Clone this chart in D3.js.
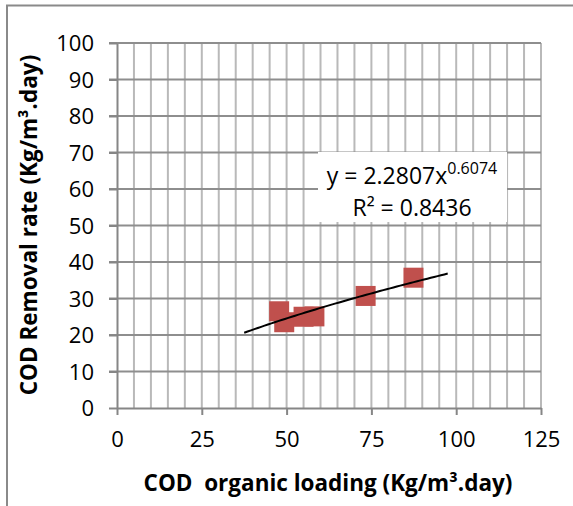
<!DOCTYPE html>
<html>
<head>
<meta charset="utf-8">
<script src="https://cdn.jsdelivr.net/npm/d3@7"></script>
<style>
  body { margin: 0; background: #fff; }
  text { font-family: "Open Sans", "Liberation Sans", sans-serif; fill: #000; }
  .tick text { font-size: 22px; }
  .axisTitle { font-size: 22.5px; font-weight: bold; }
  .eq { font-size: 23px; }
</style>
</head>
<body>
<div id="chart"></div>
<script>
var svgWidth = 573;
var svgHeight = 506;

// data
var loading = [47.8, 49.3, 55.0, 58.2, 73.3, 87.4];
var removal = [26.5, 23.5, 25.0, 25.1, 30.7, 35.7];

// power trendline as printed on the chart
var trendCoef = [2.2807, 0.6074];
var trendRange = [37.5, 97.5];
var trendText = ["y = 2.2807x", "0.6074", "R² = 0.8436"];

var xTicks = [0, 25, 50, 75, 100, 125];
var yTicks = [0, 10, 20, 30, 40, 50, 60, 70, 80, 90, 100];

var margin = { top: 43, right: 32, bottom: 98, left: 117 };
var width = svgWidth - margin.left - margin.right;
var height = svgHeight - margin.top - margin.bottom;

var svg = d3.select("#chart")
  .append("svg")
  .attr("width", svgWidth)
  .attr("height", svgHeight);

// outer chart border (bottom and right are cut off)
svg.append("path")
  .attr("d", "M7,506 V5.5 H573")
  .attr("fill", "none")
  .attr("stroke", "#8a8a8a")
  .attr("stroke-width", 2);

var chartGroup = svg.append("g")
  .attr("transform", `translate(${margin.left}, ${margin.top})`);

var x = d3.scaleLinear().domain([0, 125]).range([0, width]);
var y = d3.scaleLinear().domain([0, 100]).range([height, 0]);

// vertical minor gridlines every 5
chartGroup.append("g")
  .selectAll("line")
  .data(d3.range(5, 130, 5))
  .enter()
  .append("line")
  .attr("x1", d => x(d))
  .attr("x2", d => x(d))
  .attr("y1", 0)
  .attr("y2", height)
  .attr("stroke", "#b9b9b9")
  .attr("stroke-width", 2);

// horizontal gridlines
chartGroup.append("g")
  .selectAll("line")
  .data(yTicks.slice(1))
  .enter()
  .append("line")
  .attr("x1", -8)
  .attr("x2", width)
  .attr("y1", d => y(d))
  .attr("y2", d => y(d))
  .attr("stroke", "#8e8e8e")
  .attr("stroke-width", 2);

// axes
var bottomAxis = d3.axisBottom(x).tickValues(xTicks).tickSize(7).tickSizeOuter(0).tickPadding(16);
var leftAxis = d3.axisLeft(y).tickValues(yTicks).tickSize(8).tickSizeOuter(0).tickPadding(15);

var xAxisG = chartGroup.append("g")
  .attr("transform", `translate(0, ${height})`)
  .call(bottomAxis);

var yAxisG = chartGroup.append("g")
  .call(leftAxis);

[xAxisG, yAxisG].forEach(function(g) {
  g.select(".domain").attr("stroke", "#868686").attr("stroke-width", 2);
  g.selectAll(".tick line").attr("stroke", "#868686").attr("stroke-width", 2);
  g.selectAll(".tick text").style("font-size", "22px").attr("fill", "#000");
});
yAxisG.selectAll(".tick text").attr("dy", "0.36em");

// data squares
var size = 20;
chartGroup.selectAll("rect.pt")
  .data(loading)
  .enter()
  .append("rect")
  .attr("class", "pt")
  .attr("x", (d, i) => x(d) - size / 2)
  .attr("y", (d, i) => y(removal[i]) - size / 2)
  .attr("width", size)
  .attr("height", size)
  .attr("fill", "#c0504d");

// trendline
var trendX = d3.range(trendRange[0], trendRange[1] + 0.01, 1);
var line = d3.line()
  .x(d => x(d))
  .y(d => y(trendCoef[0] * Math.pow(d, trendCoef[1])));

chartGroup.append("path")
  .datum(trendX)
  .attr("d", line)
  .attr("fill", "none")
  .attr("stroke", "#000")
  .attr("stroke-width", 2);

// equation label
var eq = svg.append("g");
eq.append("rect")
  .attr("x", 318)
  .attr("y", 152)
  .attr("width", 189)
  .attr("height", 70)
  .attr("fill", "#fff");

var eq1 = eq.append("text")
  .attr("class", "eq")
  .attr("x", 412)
  .attr("y", 184)
  .attr("text-anchor", "middle");
eq1.append("tspan").text(trendText[0]);
eq1.append("tspan").attr("dy", -10).style("font-size", "16px").text(trendText[1]);

eq.append("text")
  .attr("class", "eq")
  .attr("x", 412)
  .attr("y", 216)
  .attr("text-anchor", "middle")
  .text(trendText[2]);

// axis titles
svg.append("text")
  .attr("class", "axisTitle")
  .attr("x", 328)
  .attr("y", 491)
  .attr("text-anchor", "middle")
  .attr("xml:space", "preserve")
  .text("COD  organic loading (Kg/m³.day)");

svg.append("text")
  .attr("class", "axisTitle")
  .attr("transform", "translate(37, 225) rotate(-90)")
  .attr("text-anchor", "middle")
  .text("COD Removal rate (Kg/m³.day)");
</script>
</body>
</html>
